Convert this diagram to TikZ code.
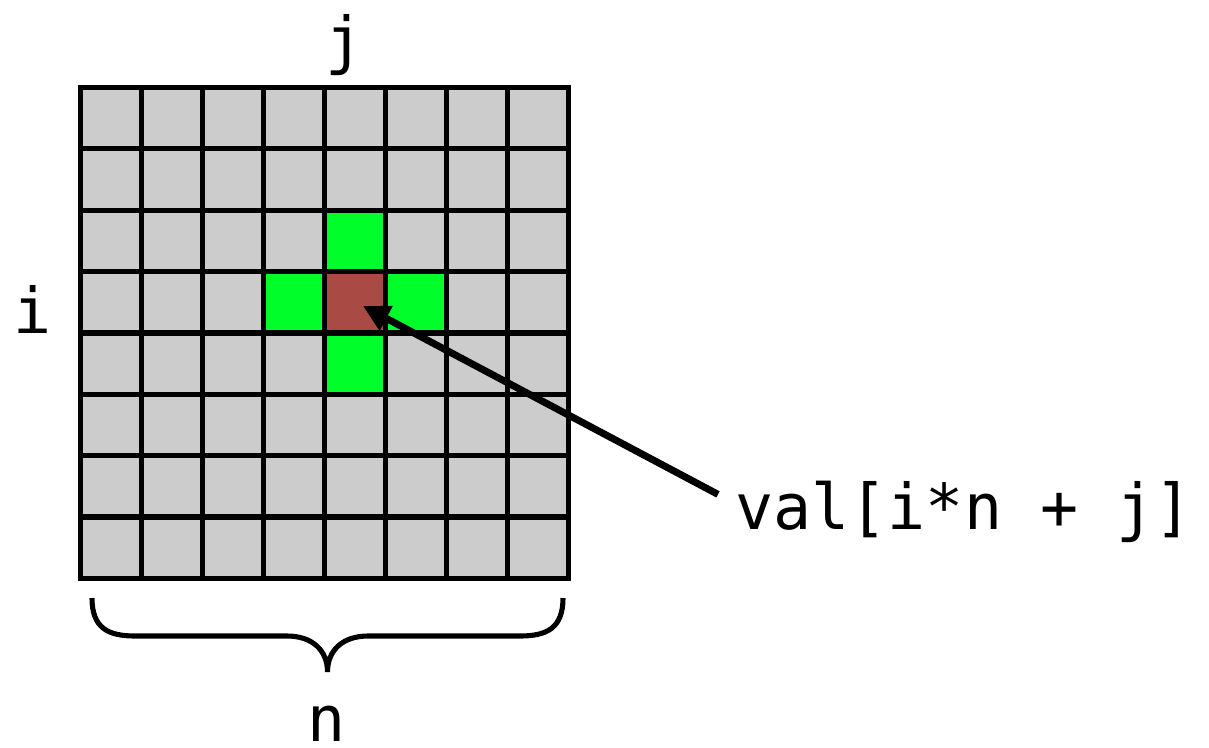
\documentclass[tikz,border=0pt]{standalone}
\usepackage{fontspec}
\setmonofont{DejaVu Sans Mono}
\usetikzlibrary{arrows.meta}
\definecolor{cellgray}{HTML}{CCCCCC}
\definecolor{nbgreen}{HTML}{00FF2A}
\definecolor{hotred}{HTML}{A94A44}

\begin{document}
\begin{tikzpicture}[x=0.02cm,y=-0.02cm,line width=2.9pt,
  lab/.style={font=\fontsize{36}{40}\selectfont\ttfamily,inner sep=0pt},
  pointer/.style={line width=4pt,-{Triangle[length=15pt,width=15pt]}}]
\useasboundingbox (0,0) rectangle (1209,747);
\begin{scope}[shift={(80.5,87.5)},x=1.22cm,y=-1.2275cm]
\fill[cellgray] (0,0) rectangle (8,8);
\fill[nbgreen] (4,2) rectangle (5,3);
\fill[nbgreen] (3,3) rectangle (4,4);
\fill[nbgreen] (5,3) rectangle (6,4);
\fill[nbgreen] (4,4) rectangle (5,5);
\fill[hotred] (4,3) rectangle (5,4);
\foreach \k in {1,...,7} {
  \draw (\k,0) -- (\k,8);
  \draw (0,\k) -- (8,\k);
}
\draw (0,0) rectangle (8,8);
\end{scope}
\draw (92,598) .. controls (92,628) and (108,636) .. (135,636) -- (287,636)
  .. controls (312,636) and (327.5,650) .. (327.5,672)
  .. controls (327.5,650) and (343,636) .. (368,636) -- (520,636)
  .. controls (547,636) and (563,628) .. (563,598);
\node[lab,anchor=base] (jlab) at (345,62) {j};
\node[lab,anchor=base] (ilab) at (33,333) {i};
\node[lab,anchor=base] (nlab) at (327,741) {n};
\node[lab,anchor=base west] (val) at (733,529) {val[i*n + j]};
\coordinate (tip) at (363,306);
\draw[pointer] ([shift={(-15,-17)}]val.west) -- (tip);
\end{tikzpicture}
\end{document}
